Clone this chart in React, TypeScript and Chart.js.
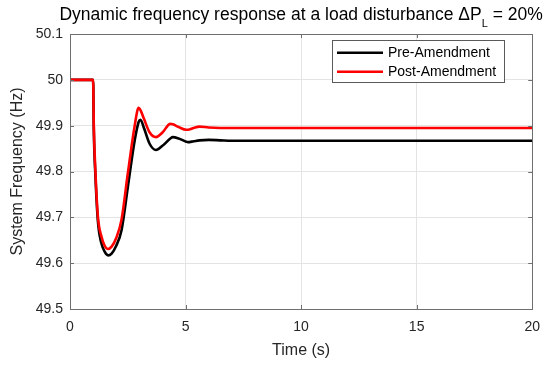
import { useEffect, useRef } from "react";
import { Chart, registerables } from "chart.js";

Chart.register(...registerables);

const timeS = [0, 1, 1.03, 1.1, 1.21, 1.35, 1.5, 1.65, 1.8, 2.0, 2.23, 2.5, 2.8, 2.97, 3.05, 3.2, 3.45, 3.72, 4.0, 4.34, 4.45, 4.7, 5.03, 5.1, 5.35, 5.6, 6.0, 6.5, 7, 8, 10, 15, 20];
const preAmendment = [50, 50, 49.89, 49.79, 49.69, 49.645, 49.625, 49.617, 49.621, 49.638, 49.672, 49.765, 49.868, 49.908, 49.913, 49.895, 49.86, 49.847, 49.856, 49.872, 49.875, 49.872, 49.865, 49.864, 49.866, 49.868, 49.869, 49.868, 49.867, 49.867, 49.867, 49.867, 49.867];
const postAmendment = [50, 50, 49.9, 49.8, 49.7, 49.66, 49.638, 49.631, 49.636, 49.655, 49.695, 49.795, 49.9, 49.939, 49.934, 49.915, 49.885, 49.875, 49.885, 49.904, 49.903, 49.897, 49.891, 49.891, 49.895, 49.898, 49.896, 49.895, 49.895, 49.895, 49.895, 49.895, 49.895];
const seriesNames = ["Pre-Amendment", "Post-Amendment"];
const seriesColors = ["#000000", "#ff0000"];
const xTicks = [0, 5, 10, 15, 20];
const yTicks = [49.5, 49.6, 49.7, 49.8, 49.9, 50, 50.1];
const titleMain = "Dynamic frequency response at a load disturbance \u0394P";
const titleSub = "L";
const titleTail = " = 20%";
const xTitle = "Time (s)";
const yTitle = "System Frequency (Hz)";

const FONT = '"Liberation Sans", Arial, Helvetica, sans-serif';
const AXIS_COLOR = "#6f6f6f";
const TEXT_COLOR = "#262626";

const boxPlugin = {
  id: "boxAndTicks",
  afterDraw(chart: any) {
    const { ctx, chartArea: a, scales } = chart;
    ctx.save();
    ctx.strokeStyle = AXIS_COLOR;
    ctx.lineWidth = 1;
    ctx.beginPath();
    const tl = 4;
    for (const v of xTicks) {
      const px = Math.round(scales.x.getPixelForValue(v)) + 0.5;
      ctx.moveTo(px, a.bottom);
      ctx.lineTo(px, a.bottom - tl);
      ctx.moveTo(px, a.top);
      ctx.lineTo(px, a.top + tl);
    }
    for (const v of yTicks) {
      const py = Math.round(scales.y.getPixelForValue(v)) + 0.5;
      ctx.moveTo(a.left, py);
      ctx.lineTo(a.left + tl, py);
      ctx.moveTo(a.right, py);
      ctx.lineTo(a.right - tl, py);
    }
    ctx.stroke();
    ctx.strokeRect(Math.round(a.left) + 0.5, Math.round(a.top) + 0.5, Math.round(a.right - a.left), Math.round(a.bottom - a.top));

    // title
    ctx.fillStyle = "#000";
    ctx.textBaseline = "alphabetic";
    ctx.textAlign = "left";
    const mainFont = `17.5px ${FONT}`;
    const subFont = `11px ${FONT}`;
    ctx.font = mainFont;
    const w1 = ctx.measureText(titleMain).width;
    const w3 = ctx.measureText(titleTail).width;
    ctx.font = subFont;
    const w2 = ctx.measureText(titleSub).width;
    const cx = (a.left + a.right) / 2;
    let x = cx - (w1 + w2 + w3) / 2;
    const base = 20;
    ctx.font = mainFont;
    ctx.fillText(titleMain, x, base);
    x += w1;
    ctx.font = subFont;
    ctx.fillText(titleSub, x, base + 7);
    x += w2;
    ctx.font = mainFont;
    ctx.fillText(titleTail, x, base);

    // legend
    const lx = 332, ly = 40, lw = 172, lh = 42;
    ctx.fillStyle = "#ffffff";
    ctx.fillRect(lx, ly, lw, lh);
    ctx.strokeStyle = "#5a5a5a";
    ctx.lineWidth = 1;
    ctx.strokeRect(lx + 0.5, ly + 0.5, lw, lh);
    ctx.font = `14px ${FONT}`;
    ctx.textBaseline = "middle";
    const rows = [52.7, 71.7];
    seriesNames.forEach((name, i) => {
      ctx.strokeStyle = seriesColors[i];
      ctx.lineWidth = 2.5;
      ctx.beginPath();
      ctx.moveTo(337, rows[i]);
      ctx.lineTo(383, rows[i]);
      ctx.stroke();
      ctx.fillStyle = "#000";
      ctx.fillText(name, 388, rows[i]);
    });
    ctx.restore();
  },
};

export default function App() {
  const ref = useRef<HTMLCanvasElement | null>(null);
  useEffect(() => {
    if (!ref.current) return;
    const chart = new Chart(ref.current, {
      type: "line",
      data: {
        datasets: [
          {
            label: seriesNames[0],
            data: timeS.map((t, i) => ({ x: t, y: preAmendment[i] })),
            borderColor: seriesColors[0],
            borderWidth: 2.6,
            pointRadius: 0,
            cubicInterpolationMode: "monotone",
            order: 1,
          },
          {
            label: seriesNames[1],
            data: timeS.map((t, i) => ({ x: t, y: postAmendment[i] })),
            borderColor: seriesColors[1],
            borderWidth: 2.6,
            pointRadius: 0,
            cubicInterpolationMode: "monotone",
            order: 0,
          },
        ],
      },
      options: {
        animation: false,
        responsive: false,
        maintainAspectRatio: false,
        layout: { padding: { top: 34, right: 15, left: 0, bottom: 0 } },
        plugins: { legend: { display: false }, tooltip: { enabled: false }, title: { display: false } },
        scales: {
          x: {
            type: "linear",
            min: 0,
            max: 20,
            afterBuildTicks: (s: any) => {
              s.ticks = xTicks.map((v) => ({ value: v }));
            },
            afterFit: (s: any) => {
              s.height = 57;
            },
            ticks: { font: { family: FONT, size: 14 }, color: TEXT_COLOR, padding: 10, maxRotation: 0 },
            grid: { color: "#e4e4e4", drawTicks: false },
            border: { display: false },
            title: { display: true, text: xTitle, font: { family: FONT, size: 16 }, color: TEXT_COLOR, padding: { top: 0, bottom: 6 } },
          },
          y: {
            type: "linear",
            min: 49.5,
            max: 50.1,
            afterBuildTicks: (s: any) => {
              s.ticks = yTicks.map((v) => ({ value: v }));
            },
            afterFit: (s: any) => {
              s.width = 70;
            },
            ticks: {
              font: { family: FONT, size: 14 },
              color: TEXT_COLOR,
              padding: 7,
              callback: (v: any) => String(+Number(v).toFixed(1)),
            },
            grid: { color: "#e4e4e4", drawTicks: false },
            border: { display: false },
            title: { display: true, text: yTitle, font: { family: FONT, size: 16 }, color: TEXT_COLOR, padding: { top: 8, bottom: 0 } },
          },
        },
      },
      plugins: [boxPlugin],
    });
    return () => chart.destroy();
  }, []);
  return (
    <div style={{ position: "fixed", left: 0, top: 0, width: 550, height: 366, background: "#fff" }}>
      <canvas ref={ref} width={550} height={366} style={{ display: "block" }} />
    </div>
  );
}
